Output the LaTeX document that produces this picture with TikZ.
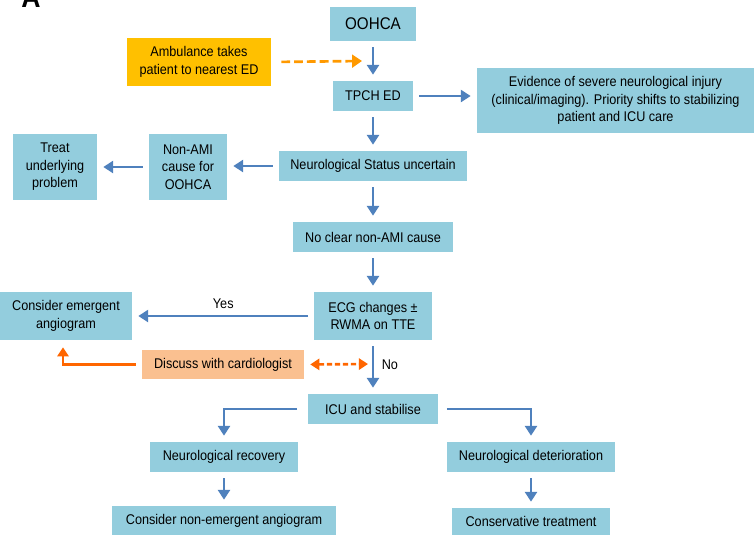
\documentclass[tikz,border=0pt]{standalone}
\usepackage{fontspec}
\setmainfont{Liberation Sans}[FakeStretch=0.9]
\usetikzlibrary{arrows.meta}
\definecolor{boxblue}{RGB}{147,205,221}
\definecolor{arrowblue}{RGB}{79,129,189}
\definecolor{ambfill}{RGB}{255,192,0}
\definecolor{ambline}{RGB}{255,153,0}
\definecolor{cardfill}{RGB}{250,192,144}
\definecolor{cardline}{RGB}{255,102,0}
\tikzstyle{bluebox} = [rectangle, 
fill=boxblue, 
inner sep=0pt, 
align=center, 
font=\fontsize{10}{12.4}\selectfont]
\tikzstyle{ambbox} = [bluebox, fill=ambfill]
\tikzstyle{cardbox} = [bluebox, fill=cardfill]
\tikzstyle{arrow} = [line width=1.9pt, draw=arrowblue,
-{Triangle[width=8.5pt,length=7pt]},
shorten >=0.15cm, shorten <=0.15cm]
\tikzstyle{ambarrow} = [line width=1.9pt, draw=ambline,
dash pattern=on 0.22cm off 0.1cm,
-{Triangle[width=9pt,length=7pt]}]
\tikzstyle{cardarrow} = [line width=1.9pt, draw=cardline,
-{Triangle[width=8pt,length=6.5pt]}]

\begin{document}
\begin{tikzpicture}[x=0.025cm, y=-0.025cm]
        \useasboundingbox (0,0) rectangle (754,535);
        \node (lbl) [anchor=base, font=\bfseries\fontsize{21}{21}\selectfont] at (31,7.5) {A};
        % main column
        \node (oohca) [bluebox, minimum width=2.125cm, minimum height=0.85cm, font=\fontsize{12}{14}\selectfont] at (373,24) {OOHCA};
        \node (amb) [ambbox, minimum width=3.6cm, minimum height=1.2cm] at (199,62) {Ambulance takes\\patient to nearest ED};
        \node (tpch) [bluebox, minimum width=2cm, minimum height=0.75cm] at (373,96) {TPCH ED};
        \node (evid) [bluebox, minimum width=6.925cm, minimum height=1.625cm] at (615.5,100.5) {Evidence of severe neurological injury\\(clinical/imaging). Priority shifts to stabilizing\\patient and ICU care};
        \node (neuro) [bluebox, minimum width=4.7cm, minimum height=0.75cm] at (373,166) {Neurological Status uncertain};
        \node (nonami) [bluebox, minimum width=1.95cm, minimum height=1.65cm] at (188,167) {Non-AMI\\cause for\\OOHCA};
        \node (treat) [bluebox, minimum width=2.1cm, minimum height=1.65cm] at (55,167) {Treat\\underlying\\problem};
        \node (noclear) [bluebox, minimum width=4cm, minimum height=0.75cm] at (373,237) {No clear non-AMI cause};
        \node (ecg) [bluebox, minimum width=2.925cm, minimum height=1.2cm] at (373,316) {ECG changes ±\\RWMA on TTE};
        \node (cons) [bluebox, minimum width=3.3cm, minimum height=1.2cm] at (66,316) {Consider emergent\\angiogram};
        \node (disc) [cardbox, minimum width=4.05cm, minimum height=0.725cm] at (223,364.5) {Discuss with cardiologist};
        \node (icu) [bluebox, minimum width=3.225cm, minimum height=0.75cm] at (373,409) {ICU and stabilise};
        \node (nrec) [bluebox, minimum width=3.675cm, minimum height=0.75cm] at (224,457) {Neurological recovery};
        \node (ndet) [bluebox, minimum width=4.2cm, minimum height=0.75cm] at (531,457) {Neurological deterioration};
        \node (nonem) [bluebox, minimum width=5.575cm, minimum height=0.725cm] at (224,520.5) {Consider non-emergent angiogram};
        \node (consv) [bluebox, minimum width=3.925cm, minimum height=0.675cm] at (531,521.5) {Conservative treatment};
        \coordinate (ambtip) at (362,61);
        \coordinate (disctip) at (368,364);

        \draw [arrow] (oohca) -- (tpch);
        \draw [arrow] (tpch.east) -- (tpch.east -| evid.west);
        \draw [arrow] (tpch) -- (neuro);
        \draw [arrow] (neuro.west) -- (neuro.west -| nonami.east);
        \draw [arrow] (nonami) -- (treat);
        \draw [arrow] (neuro) -- (noclear);
        \draw [arrow] (noclear) -- (ecg);
        \draw [arrow] (ecg) -- node[above, font=\fontsize{10}{12}\selectfont, yshift=1pt] {Yes} (cons);
        \draw [arrow] (ecg) -- node[right, font=\fontsize{10}{12}\selectfont, xshift=2pt, pos=0.45] {No} (icu);
        \draw [arrow, shorten <=0.275cm] (icu.west) -| (nrec.north);
        \draw [arrow, shorten <=0.225cm] (icu.east) -| (ndet.north);
        \draw [arrow] (nrec) -- (nonem);
        \draw [arrow] (ndet) -- (consv);
        \draw [ambarrow, shorten <=0.25cm] (amb.east) -- (ambtip);
        \draw [cardarrow, dash pattern=on 0.13cm off 0.07cm, {Triangle[width=8pt,length=6.5pt]}-{Triangle[width=8pt,length=6.5pt]}, shorten <=0.15cm] (disc.east) -- (disctip);
        \draw [cardarrow, shorten <=0.15cm, shorten >=0.175cm] (disc.west) -| ([xshift=-0.075cm]cons.south);
    \end{tikzpicture}
\end{document}
